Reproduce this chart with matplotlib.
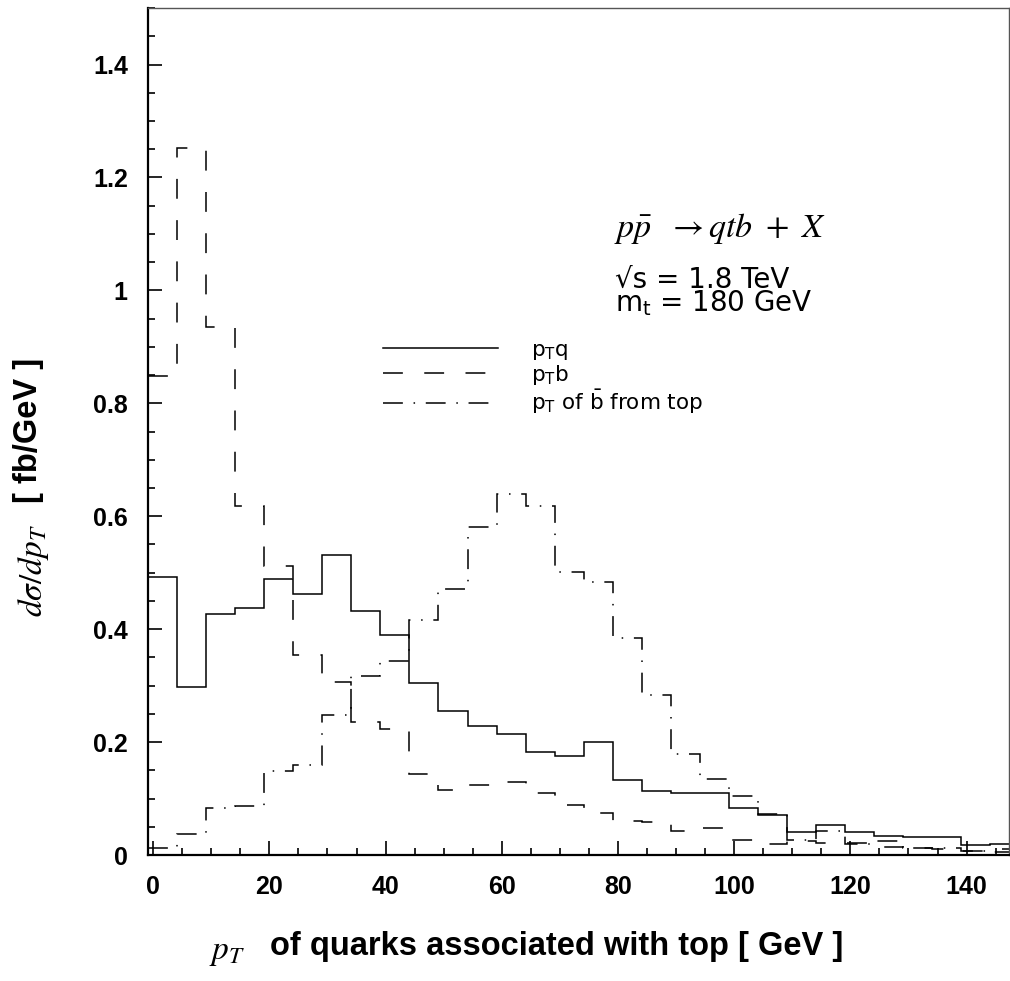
import numpy as np
import matplotlib.pyplot as plt
from matplotlib.ticker import MultipleLocator, FixedLocator

plt.rcParams['font.family'] = ['Liberation Sans', 'DejaVu Sans']
plt.rcParams['mathtext.default'] = 'it'

# histogram bins (5 GeV wide), first edge
bin_lo = -0.9
bin_width = 5.0
n_bins = 30
edges = bin_lo + bin_width * np.arange(n_bins + 1)

# pT of the light quark q
pt_q = [0.493, 0.298, 0.426, 0.438, 0.489, 0.463, 0.531, 0.433, 0.389, 0.305,
        0.255, 0.229, 0.215, 0.183, 0.176, 0.200, 0.133, 0.113, 0.110, 0.110,
        0.084, 0.071, 0.040, 0.054, 0.040, 0.033, 0.032, 0.032, 0.018, 0.020]

# pT of the b quark
pt_b = [0.849, 1.253, 0.935, 0.618, 0.512, 0.354, 0.307, 0.235, 0.224, 0.143,
        0.115, 0.124, 0.129, 0.110, 0.089, 0.074, 0.061, 0.058, 0.042, 0.048,
        0.027, 0.020, 0.024, 0.022, 0.021, 0.015, 0.012, 0.010, 0.008, 0.010]

# pT of the b-bar from top decay
pt_bbar = [0.012, 0.037, 0.083, 0.086, 0.148, 0.160, 0.248, 0.317, 0.344, 0.417,
           0.472, 0.581, 0.639, 0.618, 0.501, 0.484, 0.384, 0.284, 0.179, 0.135,
           0.104, 0.073, 0.027, 0.042, 0.020, 0.025, 0.012, 0.012, 0.008, 0.005]

labels = [r'p$_\mathregular{T}$q', r'p$_\mathregular{T}$b',
          r'p$_\mathregular{T}$ of $\mathregular{\bar{b}}$ from top']

fig = plt.figure(figsize=(10.1, 9.81), dpi=100)
ax = fig.add_axes([0.1465, 0.1284, 0.8525, 0.8634])

lw = 1.1
ax.stairs(pt_q, edges, baseline=None, color='black', lw=lw, label=labels[0])
ax.stairs(pt_b, edges, baseline=None, color='black', lw=lw,
          linestyle=(0, (13, 14)), label=labels[1])
ax.stairs(pt_bbar, edges, baseline=None, color='black', lw=lw,
          linestyle=(0, (13, 7, 1, 7)), label=labels[2])

ax.set_xlim(-0.9, 147.3)
ax.set_ylim(0, 1.5)

ax.xaxis.set_major_locator(FixedLocator(np.arange(0, 141, 20)))
ax.xaxis.set_minor_locator(MultipleLocator(5))
ax.yaxis.set_major_locator(FixedLocator(np.arange(0, 1.41, 0.2)))
ax.yaxis.set_minor_locator(MultipleLocator(0.05))
ax.set_xticklabels([str(v) for v in range(0, 141, 20)])
ax.set_yticklabels(['0', '0.2', '0.4', '0.6', '0.8', '1', '1.2', '1.4'])

ax.tick_params(which='both', direction='in', top=False, right=False)
ax.tick_params(which='major', length=10, width=1.2, labelsize=18)
ax.tick_params(which='minor', length=5, width=1.2)
ax.tick_params(axis='x', pad=14.5)
ax.tick_params(axis='y', pad=14.5)
for t in ax.get_xticklabels() + ax.get_yticklabels():
    t.set_fontweight('bold')

for side in ['left', 'bottom']:
    ax.spines[side].set_linewidth(1.6)
for side in ['top', 'right']:
    ax.spines[side].set_linewidth(1.0)
    ax.spines[side].set_color('#555555')

leg = ax.legend(loc='upper left', bbox_to_anchor=(0.2735, 0.6085), frameon=False,
                prop={'family': ['DejaVu Sans'], 'size': 15.5},
                handlelength=5.3, handletextpad=1.55,
                labelspacing=0.05, borderaxespad=0, borderpad=0)

# process annotation
ax.text(0.5415, 0.740, r'$p\bar{p}\ \ \rightarrow qtb\ +\ X$', transform=ax.transAxes,
        fontsize=24.5, math_fontfamily='stix', va='center', ha='left')
ax.text(0.5425, 0.6647, '√s = 1.8 TeV\n' + r'm$_\mathregular{t}$ = 180 GeV',
        transform=ax.transAxes, family=['DejaVu Sans'], fontsize=20,
        linespacing=0.78, va='center', ha='left')

# axis titles
fig.text(0.2245, 1 - 952 / 981, r'$p_T$', fontsize=24, math_fontfamily='stix',
         ha='center', va='center')
fig.text(0.2673, 1 - 946 / 981, 'of quarks associated with top [ GeV ]',
         fontsize=23.5, fontweight='bold', ha='left', va='center')
fig.text(0.033, 1 - 571 / 981, r'$d\sigma/dp_T$', fontsize=24, math_fontfamily='stix',
         rotation=90, ha='center', va='center')
fig.text(0.028, 1 - 430 / 981, '[ fb/GeV ]', fontsize=23.5, fontweight='bold',
         rotation=90, ha='center', va='center')

fig.savefig('out.png', dpi=100)
